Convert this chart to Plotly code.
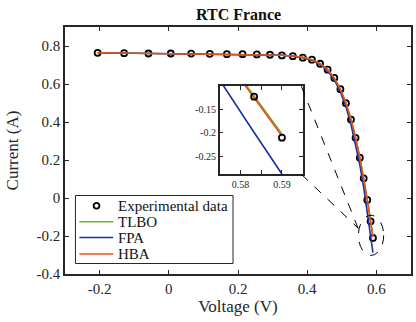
import plotly.graph_objects as go

# ---- data ----
voltage = [-0.2057, -0.1291, -0.0588, 0.0057, 0.0646, 0.1185, 0.1678, 0.2132, 0.2545,
           0.2924, 0.3269, 0.3585, 0.3873, 0.4137, 0.4373, 0.4590, 0.4784, 0.4960,
           0.5119, 0.5265, 0.5398, 0.5521, 0.5633, 0.5736, 0.5833, 0.5900]
i_exp = [0.7640, 0.7620, 0.7605, 0.7605, 0.7600, 0.7590, 0.7570, 0.7570, 0.7555,
         0.7540, 0.7505, 0.7465, 0.7385, 0.7280, 0.7065, 0.6755, 0.6320, 0.5730,
         0.4990, 0.4130, 0.3165, 0.2120, 0.1035, -0.0100, -0.1230, -0.2100]
i_tlbo = [0.7641, 0.7627, 0.7614, 0.7602, 0.7591, 0.7580, 0.7571, 0.7561, 0.7551,
          0.7537, 0.7514, 0.7474, 0.7401, 0.7274, 0.7070, 0.6753, 0.6310, 0.5722,
          0.5000, 0.4142, 0.3183, 0.2132, 0.1036, -0.0070, -0.1215, -0.2020]
i_fpa = [0.7641, 0.7627, 0.7614, 0.7602, 0.7591, 0.7580, 0.7571, 0.7561, 0.7550,
         0.7535, 0.7510, 0.7465, 0.7385, 0.7255, 0.7030, 0.6690, 0.6210, 0.5580,
         0.4800, 0.3880, 0.2860, 0.1750, 0.0560, -0.0690, -0.1990, -0.2870]
i_hba = [0.7641, 0.7627, 0.7614, 0.7602, 0.7591, 0.7580, 0.7571, 0.7561, 0.7551,
         0.7537, 0.7514, 0.7474, 0.7401, 0.7274, 0.7070, 0.6753, 0.6308, 0.5719,
         0.4996, 0.4136, 0.3175, 0.2121, 0.1022, -0.0087, -0.1255, -0.2065]

legend_labels = ["Experimental data", "TLBO", "FPA", "HBA"]
series = [("TLBO", i_tlbo, "#77AC30"), ("FPA", i_fpa, "#1C2FA0"), ("HBA", i_hba, "#E2541B")]

x_ticks = [-0.2, 0, 0.2, 0.4, 0.6]
y_ticks = [-0.4, -0.2, 0, 0.2, 0.4, 0.6, 0.8]
inset_x_ticks = [0.58, 0.585, 0.59]
inset_x_text = ["0.58", "", "0.59"]
inset_y_ticks = [-0.25, -0.2, -0.15]

FONT = "Liberation Serif"
AX = "#262626"
MARKER = dict(symbol="circle-open", size=6, color="black", line=dict(width=1.8, color="black"))

# figure geometry (pixels)
W, H = 416, 322
ML, MR, MT, MB = 65, 3, 27, 48
PW, PH = W - ML - MR, H - MT - MB


def px(xp):
    return (xp - ML) / PW


def py(yp):
    return (H - MB - yp) / PH


fig = go.Figure()

# main traces
fig.add_trace(go.Scatter(x=voltage, y=i_exp, mode="markers", name=legend_labels[0],
                         marker=MARKER, showlegend=False))
for name, vals, col in series:
    fig.add_trace(go.Scatter(x=voltage, y=vals, mode="lines", name=name, showlegend=False,
                             line=dict(color=col, width=1.6)))

# inset traces
for name, vals, col in series:
    fig.add_trace(go.Scatter(x=voltage, y=vals, mode="lines", showlegend=False,
                             line=dict(color=col, width=1.6), xaxis="x2", yaxis="y2"))
fig.add_trace(go.Scatter(x=voltage, y=i_exp, mode="markers", showlegend=False,
                         marker=MARKER, xaxis="x2", yaxis="y2"))

axis_common = dict(showline=True, linecolor=AX, linewidth=1.5, mirror="allticks",
                   ticks="inside", ticklen=4, tickcolor=AX, tickwidth=1,
                   showgrid=False, zeroline=False)

fig.update_layout(
    width=W, height=H,
    margin=dict(l=ML, r=MR, t=MT, b=MB),
    paper_bgcolor="white", plot_bgcolor="white",
    font=dict(family=FONT, color="#262626", size=15),
    title=dict(text="<b>RTC France</b>", x=0.5735, xanchor="center", y=0.955, yanchor="middle",
               font=dict(family=FONT, size=16, color="#111")),
    xaxis=dict(range=[-0.3, 0.7], tickvals=x_ticks, ticktext=[f"{v:g}" for v in x_ticks],
               title=dict(text="Voltage (V)", font=dict(size=17), standoff=4),
               tickfont=dict(size=15), **axis_common),
    yaxis=dict(range=[-0.4, 0.9], tickvals=y_ticks, ticktext=[f"{v:g}" for v in y_ticks],
               title=dict(text="Current (A)", font=dict(size=17), standoff=14),
               tickfont=dict(size=15), **axis_common),
    xaxis2=dict(domain=[0.447, 0.687], anchor="y2", range=[0.575, 0.595],
                tickvals=inset_x_ticks, ticktext=inset_x_text, tickfont=dict(size=10),
                **axis_common),
    yaxis2=dict(domain=[0.404, 0.762], anchor="x2", range=[-0.2875, -0.1],
                tickvals=inset_y_ticks, ticktext=[f"{v:g}" for v in inset_y_ticks],
                tickfont=dict(size=10), **axis_common),
    showlegend=False,
)

# zoom indicator shapes
fig.add_shape(type="circle", xref="x", yref="y", x0=0.548, x1=0.621, y0=-0.302, y1=-0.091,
              line=dict(color="black", width=1, dash="dash"))
fig.add_shape(type="line", xref="x", yref="y", x0=0.383, y0=0.588, x1=0.549, y1=-0.168,
              line=dict(color="black", width=1, dash="dash"))
fig.add_shape(type="line", xref="x", yref="y", x0=0.383, y0=0.125, x1=0.548, y1=-0.16,
              line=dict(color="black", width=1, dash="dash"))

# legend box drawn in paper space (MATLAB-style compact legend)
fig.add_shape(type="rect", xref="paper", yref="paper", x0=px(75.5), x1=px(234),
              y0=py(263.5), y1=py(195.5), line=dict(color=AX, width=1), fillcolor="white",
              layer="above")
row_y = [205.7, 221.7, 237.5, 254.0]
for k, label in enumerate(legend_labels):
    yk = row_y[k]
    if k == 0:
        fig.add_shape(type="circle", xref="paper", yref="paper",
                      x0=px(93.8), x1=px(99.6), y0=py(yk + 2.9), y1=py(yk - 2.9),
                      line=dict(color="black", width=1.8), layer="above")
    else:
        col = series[k - 1][2]
        fig.add_shape(type="line", xref="paper", yref="paper",
                      x0=px(79.5), x1=px(113.5), y0=py(yk), y1=py(yk),
                      line=dict(color=col, width=1.6), layer="above")
    fig.add_annotation(xref="paper", yref="paper", x=px(116), y=py(yk), text=label,
                       showarrow=False, xanchor="left", yanchor="middle",
                       font=dict(family=FONT, size=15, color="#111"))

fig.write_html("out.html")
